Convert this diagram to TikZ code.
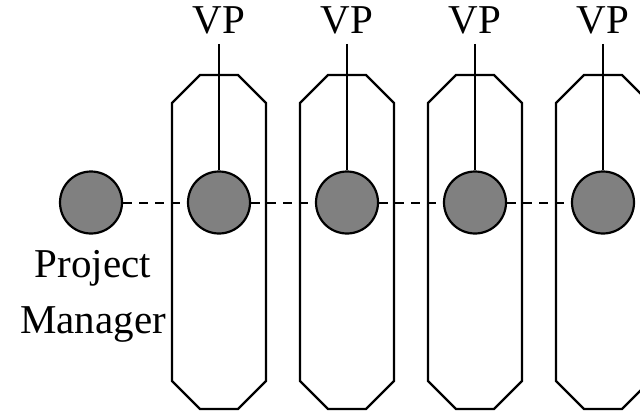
\documentclass[tikz,border=0pt]{standalone}
\usepackage{fontspec}
\setmainfont{Liberation Serif}
\begin{document}
\begin{tikzpicture}[x=1pt,y=-1pt,
  person/.style={circle,draw=black,fill=gray,line width=2.2pt,minimum size=62pt,inner sep=0pt},
  label/.style={font=\fontsize{41}{56}\selectfont,inner sep=0pt},
  group/.style={draw=black,line width=2.2pt,line join=miter},
  link/.style={line width=2pt},
  dashlink/.style={line width=2pt,dash pattern=on 9pt off 7pt}]
\useasboundingbox (0,0) rectangle (640,412);
\clip (0,0) rectangle (640,412);
\node[person] (pm) at (91,202.5) {};
\node[label,align=center,anchor=base] (pmlabel) at (93,333) {Project\\Manager};
\foreach \i/\cx in {1/219,2/347,3/475,4/603}{
  \draw[group] (\cx-19,75) -- (\cx+19,75) -- (\cx+47,103) -- (\cx+47,381)
     -- (\cx+19,409) -- (\cx-19,409) -- (\cx-47,381) -- (\cx-47,103) -- cycle;
  \node[person] (c\i) at (\cx,202.5) {};
  \node[label,anchor=base] (vp\i) at (\cx,34) {VP};
  \draw[link] ([yshift=-10pt]vp\i.base) -- (c\i.north);
}
\draw[dashlink] (pm) -- (c1);
\draw[dashlink] (c1) -- (c2);
\draw[dashlink] (c2) -- (c3);
\draw[dashlink] (c3) -- (c4);
\end{tikzpicture}
\end{document}
